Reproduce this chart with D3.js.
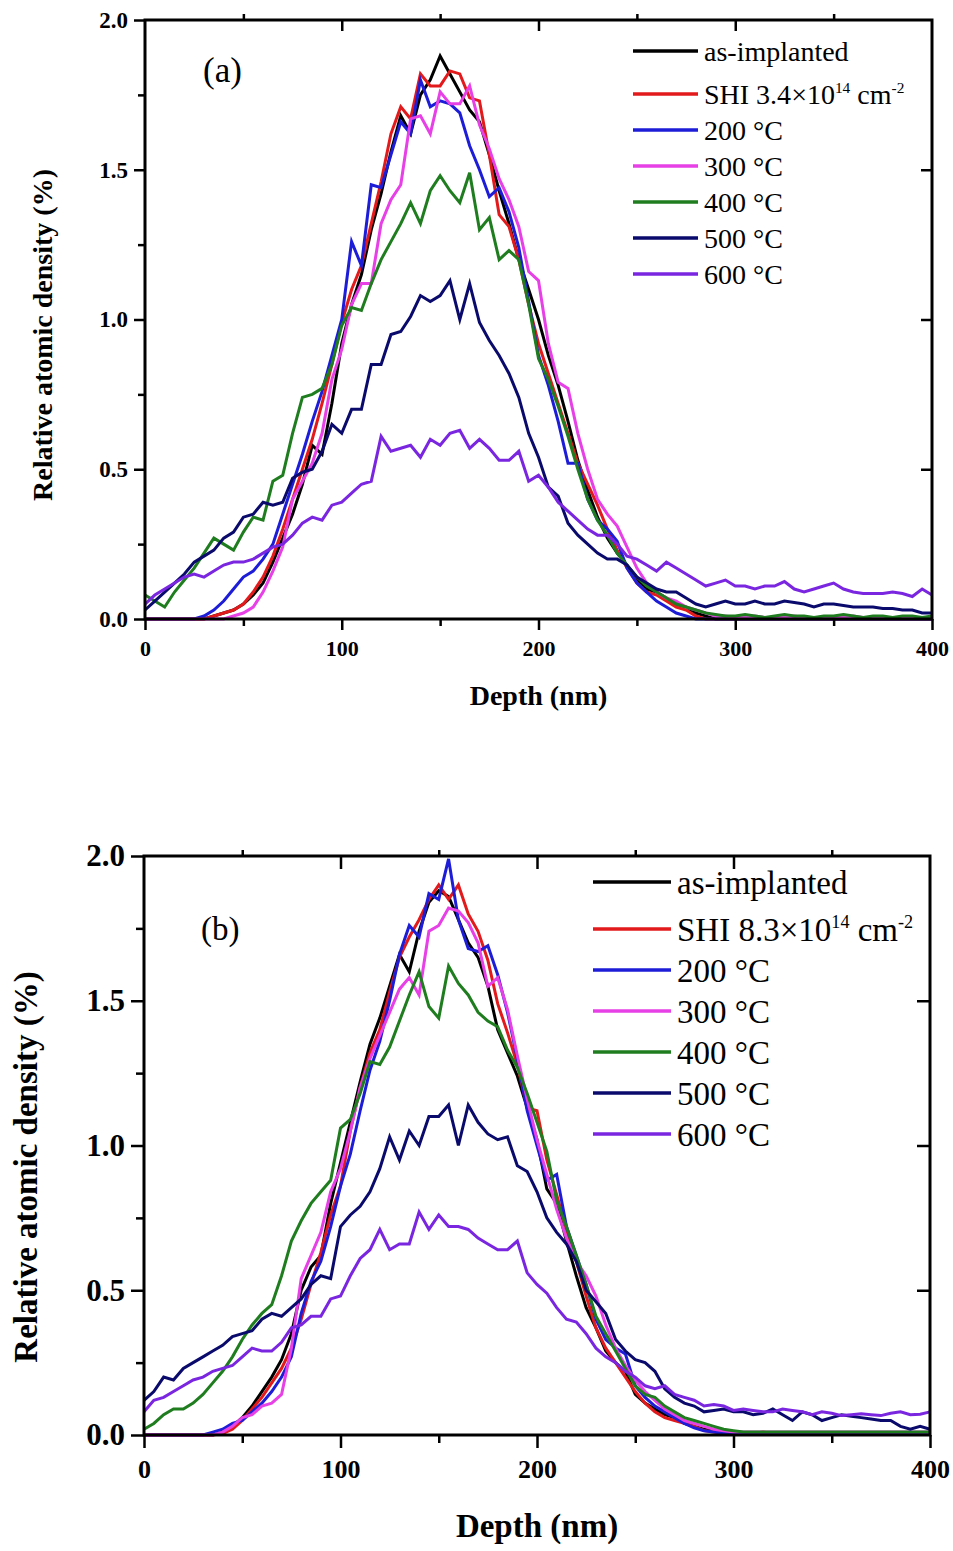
<!DOCTYPE html>
<html lang="en">
<head>
  <meta charset="UTF-8">
  <title>Relative atomic density vs depth</title>
  <script src="https://d3js.org/d3.v7.min.js"></script>
  <style>
    body { margin: 0; background: #fff; }
    text { font-family: "Liberation Serif", "Times New Roman", serif; }
  </style>
</head>
<body>
  <svg id="chart" width="953" height="1551"></svg>
  <script>
    // depth grid (nm)
    const depth = [0,5,10,15,20,25,30,35,40,45,50,55,60,65,70,75,80,85,90,95,100,105,110,115,120,125,130,135,140,145,150,155,160,165,170,175,180,185,190,195,200,205,210,215,220,225,230,235,240,245,250,255,260,265,270,275,280,285,290,295,300,305,310,315,320,325,330,335,340,345,350,355,360,365,370,375,380,385,390,395,400];

    const xTicks = [0, 100, 200, 300, 400];
    const xMinor = [50, 150, 250, 350];
    const yTicks = [0, 0.5, 1.0, 1.5, 2.0];
    const yMinor = [0.25, 0.75, 1.25, 1.75];

    const colors = ["#000000", "#e31a1c", "#1d1dd8", "#e640e6", "#1f7d1f", "#0a0a6c", "#7a26e0"];
    const namesA = ["as-implanted", "SHI 3.4", "200 °C", "300 °C", "400 °C", "500 °C", "600 °C"];
    const namesB = ["as-implanted", "SHI 8.3", "200 °C", "300 °C", "400 °C", "500 °C", "600 °C"];

    // ---- panel (a) ----
    const aAsImpl = [0,0,0,0,0,0,0,0.01,0.02,0.03,0.05,0.08,0.12,0.19,0.27,0.35,0.45,0.58,0.55,0.72,0.92,1.05,1.15,1.3,1.42,1.56,1.68,1.62,1.75,1.8,1.88,1.82,1.76,1.7,1.66,1.55,1.43,1.32,1.2,1.1,1.0,0.88,0.78,0.66,0.53,0.43,0.34,0.27,0.22,0.18,0.13,0.1,0.09,0.07,0.05,0.04,0.02,0.01,0,0,0,0,0,0,0,0,0,0,0,0,0,0,0,0,0,0,0,0,0,0,0];
    const aSHI = [0,0,0,0,0,0,0,0.01,0.02,0.03,0.05,0.09,0.14,0.21,0.3,0.4,0.5,0.6,0.72,0.85,0.99,1.1,1.18,1.32,1.46,1.62,1.71,1.67,1.82,1.78,1.78,1.83,1.82,1.74,1.73,1.55,1.35,1.31,1.2,1.05,0.92,0.82,0.72,0.62,0.52,0.45,0.38,0.3,0.23,0.17,0.12,0.09,0.08,0.06,0.04,0.03,0.01,0,0,0,0,0,0,0,0,0,0,0,0,0,0,0,0,0,0,0,0,0,0,0,0];
    const a200 = [0,0,0,0,0,0,0.01,0.03,0.06,0.1,0.14,0.16,0.2,0.25,0.35,0.45,0.55,0.66,0.76,0.88,1.0,1.26,1.18,1.45,1.44,1.55,1.66,1.62,1.8,1.71,1.73,1.72,1.69,1.58,1.5,1.41,1.44,1.36,1.24,1.06,0.88,0.78,0.66,0.52,0.52,0.4,0.33,0.3,0.26,0.17,0.12,0.09,0.06,0.04,0.02,0.01,0,0,0,0,0,0,0,0,0,0,0,0,0,0,0,0,0,0,0,0,0,0,0,0,0];
    const a300 = [0,0,0,0,0,0,0,0,0,0.01,0.02,0.04,0.09,0.16,0.24,0.4,0.46,0.52,0.62,0.8,0.9,1.05,1.12,1.12,1.32,1.4,1.45,1.67,1.68,1.62,1.76,1.72,1.72,1.78,1.65,1.57,1.47,1.4,1.31,1.16,1.13,0.92,0.79,0.77,0.62,0.5,0.4,0.35,0.31,0.24,0.17,0.12,0.09,0.07,0.06,0.04,0.03,0.02,0.01,0.01,0.005,0.005,0.01,0.005,0.005,0.005,0.01,0.005,0.005,0.005,0.005,0.005,0.01,0.005,0.005,0.005,0.005,0.005,0.005,0.005,0.005];
    const a400 = [0.08,0.06,0.04,0.09,0.13,0.17,0.22,0.27,0.25,0.23,0.29,0.34,0.33,0.46,0.48,0.62,0.74,0.75,0.77,0.85,0.98,1.04,1.03,1.12,1.2,1.26,1.32,1.39,1.32,1.43,1.48,1.43,1.39,1.49,1.3,1.34,1.2,1.23,1.2,1.05,0.87,0.8,0.71,0.61,0.5,0.4,0.33,0.28,0.22,0.18,0.14,0.11,0.09,0.07,0.05,0.04,0.03,0.02,0.015,0.01,0.01,0.015,0.01,0.005,0.01,0.015,0.01,0.01,0.005,0.01,0.01,0.015,0.01,0.005,0.01,0.01,0.005,0.01,0.01,0.005,0.01];
    const a500 = [0.03,0.06,0.09,0.12,0.15,0.19,0.21,0.23,0.27,0.29,0.34,0.35,0.39,0.38,0.39,0.47,0.49,0.5,0.56,0.65,0.62,0.7,0.7,0.85,0.85,0.95,0.96,1.01,1.08,1.06,1.08,1.13,1.0,1.12,0.99,0.93,0.88,0.82,0.74,0.62,0.54,0.44,0.41,0.32,0.28,0.25,0.22,0.2,0.2,0.18,0.14,0.12,0.1,0.09,0.09,0.07,0.05,0.04,0.05,0.06,0.05,0.05,0.06,0.05,0.05,0.06,0.055,0.05,0.04,0.05,0.05,0.045,0.04,0.04,0.04,0.035,0.035,0.03,0.03,0.02,0.02];
    const a600 = [0.05,0.08,0.1,0.12,0.14,0.15,0.14,0.16,0.18,0.19,0.19,0.2,0.22,0.24,0.25,0.28,0.32,0.34,0.33,0.38,0.39,0.42,0.45,0.46,0.61,0.56,0.57,0.58,0.54,0.6,0.58,0.62,0.63,0.57,0.6,0.57,0.53,0.53,0.56,0.46,0.48,0.44,0.39,0.36,0.33,0.3,0.28,0.28,0.25,0.21,0.2,0.18,0.16,0.19,0.17,0.15,0.13,0.11,0.12,0.13,0.11,0.11,0.1,0.11,0.11,0.125,0.1,0.09,0.1,0.11,0.12,0.1,0.09,0.085,0.085,0.085,0.09,0.085,0.075,0.1,0.08];

    // ---- panel (b) ----
    const bAsImpl = [0,0,0,0,0,0,0,0,0.01,0.03,0.06,0.1,0.15,0.2,0.26,0.35,0.5,0.58,0.62,0.8,0.94,1.08,1.22,1.35,1.44,1.55,1.66,1.6,1.74,1.84,1.88,1.86,1.78,1.7,1.65,1.55,1.4,1.32,1.24,1.13,1.02,0.85,0.8,0.67,0.55,0.44,0.37,0.29,0.25,0.22,0.14,0.11,0.09,0.07,0.06,0.04,0.03,0.02,0.015,0.01,0.01,0.005,0.005,0.005,0.005,0.005,0.005,0.005,0.005,0.005,0.005,0.005,0.005,0.005,0.005,0.005,0.005,0.005,0.005,0.005,0.005];
    const bSHI = [0,0,0,0,0,0,0,0,0.005,0.02,0.05,0.09,0.13,0.18,0.23,0.3,0.4,0.52,0.63,0.76,0.86,1.05,1.2,1.32,1.4,1.53,1.65,1.72,1.78,1.85,1.9,1.85,1.9,1.8,1.74,1.64,1.49,1.39,1.28,1.13,1.12,0.95,0.83,0.71,0.6,0.48,0.37,0.3,0.25,0.2,0.15,0.11,0.08,0.06,0.05,0.04,0.03,0.015,0.01,0.005,0.005,0.005,0.005,0.01,0.005,0.005,0.005,0.005,0.005,0.005,0.005,0.005,0.005,0.005,0.005,0.005,0.005,0.005,0.005,0.005,0.005];
    const b200 = [0,0,0,0,0,0,0,0.01,0.02,0.04,0.05,0.08,0.11,0.15,0.2,0.27,0.42,0.53,0.6,0.72,0.86,0.97,1.12,1.26,1.36,1.5,1.66,1.76,1.72,1.87,1.85,1.99,1.78,1.68,1.67,1.69,1.59,1.46,1.3,1.12,1.0,0.88,0.9,0.72,0.62,0.52,0.4,0.33,0.3,0.28,0.17,0.13,0.1,0.08,0.06,0.04,0.025,0.015,0.01,0.005,0.005,0.005,0.005,0.005,0.005,0.005,0.005,0.005,0.005,0.005,0.005,0.005,0.005,0.005,0.005,0.005,0.005,0.005,0.005,0.005,0.005];
    const b300 = [0,0,0,0,0,0,0,0,0.01,0.03,0.06,0.07,0.1,0.11,0.14,0.3,0.54,0.62,0.7,0.84,0.92,1.05,1.2,1.3,1.38,1.46,1.54,1.58,1.52,1.74,1.76,1.82,1.81,1.77,1.7,1.55,1.58,1.47,1.31,1.16,1.02,0.9,0.78,0.68,0.6,0.55,0.48,0.38,0.3,0.24,0.19,0.15,0.12,0.09,0.07,0.05,0.04,0.03,0.02,0.015,0.01,0.01,0.01,0.01,0.01,0.01,0.01,0.01,0.01,0.01,0.01,0.01,0.01,0.01,0.01,0.01,0.01,0.01,0.01,0.01,0.01];
    const b400 = [0.02,0.04,0.07,0.09,0.09,0.11,0.14,0.18,0.22,0.27,0.33,0.38,0.42,0.45,0.55,0.67,0.74,0.8,0.84,0.88,1.06,1.09,1.18,1.29,1.28,1.34,1.43,1.52,1.6,1.48,1.44,1.62,1.56,1.52,1.46,1.43,1.41,1.33,1.27,1.18,1.08,0.98,0.81,0.72,0.62,0.52,0.41,0.35,0.29,0.23,0.17,0.14,0.13,0.1,0.08,0.06,0.05,0.04,0.03,0.02,0.015,0.01,0.01,0.01,0.01,0.01,0.01,0.01,0.01,0.01,0.01,0.01,0.01,0.01,0.01,0.01,0.01,0.01,0.01,0.01,0.01];
    const b500 = [0.12,0.15,0.2,0.19,0.23,0.25,0.27,0.29,0.31,0.34,0.35,0.36,0.4,0.42,0.41,0.44,0.47,0.52,0.55,0.54,0.72,0.76,0.79,0.84,0.92,1.03,0.95,1.05,1.0,1.1,1.1,1.14,1.0,1.14,1.08,1.04,1.02,1.03,0.93,0.91,0.84,0.75,0.7,0.66,0.6,0.5,0.46,0.42,0.33,0.29,0.26,0.25,0.22,0.16,0.13,0.11,0.1,0.08,0.085,0.09,0.08,0.08,0.07,0.075,0.09,0.07,0.05,0.08,0.07,0.05,0.06,0.07,0.065,0.06,0.055,0.05,0.05,0.03,0.02,0.03,0.02];
    const b600 = [0.08,0.12,0.13,0.15,0.17,0.19,0.2,0.22,0.23,0.24,0.27,0.3,0.29,0.29,0.32,0.37,0.38,0.41,0.41,0.47,0.48,0.55,0.61,0.64,0.71,0.64,0.66,0.66,0.77,0.71,0.76,0.72,0.72,0.71,0.68,0.66,0.64,0.64,0.67,0.56,0.52,0.49,0.44,0.4,0.39,0.35,0.3,0.27,0.25,0.22,0.2,0.17,0.16,0.17,0.14,0.13,0.12,0.1,0.105,0.1,0.085,0.09,0.085,0.08,0.08,0.09,0.085,0.08,0.07,0.08,0.075,0.067,0.07,0.073,0.07,0.067,0.075,0.08,0.07,0.072,0.08];

    const svg = d3.select("#chart");

    function drawPanel(o) {
      const x = d3.scaleLinear().domain([0, 400]).range([o.left, o.right]);
      const y = d3.scaleLinear().domain([0, 2]).range([o.bottom, o.top]);
      const g = svg.append("g");

      const line = d3.line()
        .x((v, i) => x(depth[i]))
        .y(v => y(v));

      o.series.forEach((s, i) => {
        g.append("path")
          .attr("d", line(s))
          .attr("fill", "none")
          .attr("stroke", colors[i])
          .attr("stroke-width", 3)
          .attr("stroke-linejoin", "miter");
      });

      const fmtX = d3.format("d"), fmtY = d3.format(".1f");

      // axes: major + minor on each side  [axis, transform, label font size]
      const axes = [
        [d3.axisBottom(x).tickValues(xTicks).tickSize(o.tick).tickPadding(o.pad).tickFormat(fmtX), `translate(0,${o.bottom})`, o.xTickFont],
        [d3.axisBottom(x).tickValues(xMinor).tickSize(o.minor).tickFormat(""), `translate(0,${o.bottom})`, 0],
        [d3.axisLeft(y).tickValues(yTicks).tickSize(o.tick).tickPadding(o.ypad).tickFormat(fmtY), `translate(${o.left},0)`, o.yTickFont],
        [d3.axisLeft(y).tickValues(yMinor).tickSize(o.minor).tickFormat(""), `translate(${o.left},0)`, 0],
        [d3.axisTop(x).tickValues(xTicks.slice(1, 4)).tickSize(-o.tick).tickFormat(""), `translate(0,${o.top})`, 0],
        [d3.axisTop(x).tickValues(xMinor).tickSize(6).tickFormat(""), `translate(0,${o.top})`, 0],
        [d3.axisRight(y).tickValues(yTicks.slice(1, 4)).tickSize(-o.tick).tickFormat(""), `translate(${o.right},0)`, 0]
      ];
      axes.forEach(([ax, tr, fs]) => {
        const a = g.append("g").attr("transform", tr).call(ax);
        a.select(".domain").remove();
        a.selectAll(".tick line").attr("stroke", "#000").attr("stroke-width", 2.5);
        if (fs) {
          a.selectAll(".tick text")
            .attr("fill", "#000")
            .style("font-family", "'Liberation Serif', serif")
            .style("font-weight", "bold")
            .style("font-size", fs + "px");
        }
      });

      // frame
      g.append("rect")
        .attr("x", o.left).attr("y", o.top)
        .attr("width", o.right - o.left).attr("height", o.bottom - o.top)
        .attr("fill", "none").attr("stroke", "#000").attr("stroke-width", 3);

      // axis titles
      g.append("text")
        .attr("x", (o.left + o.right) / 2).attr("y", o.xTitleY)
        .attr("text-anchor", "middle")
        .style("font-weight", "bold").style("font-size", o.titleFont + "px")
        .text("Depth (nm)");
      g.append("text")
        .attr("transform", `translate(${o.yTitleX},${o.yTitleCY}) rotate(-90)`)
        .attr("text-anchor", "middle")
        .style("font-weight", "bold").style("font-size", o.titleFont + "px")
        .text("Relative atomic density (%)");

      // panel letter
      g.append("text")
        .attr("x", o.tagX).attr("y", o.tagY)
        .style("font-size", o.tagFont + "px")
        .text(o.tag);

      // legend
      const up = Math.round(o.legFont * 0.38);
      o.names.forEach((name, i) => {
        const ly = o.legY[i];
        g.append("line")
          .attr("x1", o.legX1).attr("x2", o.legX2)
          .attr("y1", ly).attr("y2", ly)
          .attr("stroke", colors[i]).attr("stroke-width", 3.5);
        const t = g.append("text")
          .attr("x", o.legX2 + 6).attr("y", ly)
          .attr("dy", "0.35em")
          .style("font-size", o.legFont + "px")
          .text(name);
        if (i === 1) {
          t.append("tspan").text("×10");
          t.append("tspan").attr("dy", -up).style("font-size", "0.55em").text("14");
          t.append("tspan").attr("dy", up).text(" cm");
          t.append("tspan").attr("dy", -up).style("font-size", "0.55em").text("-2");
        }
      });
    }

    drawPanel({
      left: 145, right: 932, top: 20, bottom: 619,
      tick: 11, minor: 7, pad: 10, ypad: 6, xTickFont: 22, yTickFont: 23, titleFont: 28,
      xTitleY: 705, yTitleX: 52, yTitleCY: 335,
      tag: "(a)", tagX: 203, tagY: 82, tagFont: 35,
      series: [aAsImpl, aSHI, a200, a300, a400, a500, a600],
      names: namesA,
      legX1: 633, legX2: 698, legFont: 28,
      legY: [51, 94, 130, 166, 202, 238, 274]
    });

    drawPanel({
      left: 144, right: 930, top: 856, bottom: 1435,
      tick: 13, minor: 8, pad: 12, ypad: 6, xTickFont: 26, yTickFont: 31, titleFont: 33,
      xTitleY: 1537, yTitleX: 37, yTitleCY: 1167,
      tag: "(b)", tagX: 201, tagY: 940, tagFont: 33,
      series: [bAsImpl, bSHI, b200, b300, b400, b500, b600],
      names: namesB,
      legX1: 593, legX2: 671, legFont: 33,
      legY: [882, 929, 970, 1011, 1052, 1093, 1134]
    });
  </script>
</body>
</html>
